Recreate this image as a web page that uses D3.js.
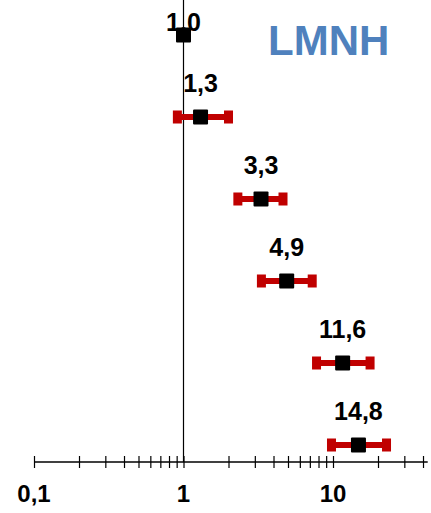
<!DOCTYPE html>
<html>
<head>
<meta charset="utf-8">
<script src="https://cdn.jsdelivr.net/npm/d3@7"></script>
<style>
  html, body { margin: 0; padding: 0; background: #fff; }
  svg { display: block; font-family: "Liberation Sans", Arial, sans-serif; }
</style>
</head>
<body>
<svg id="chart" width="431" height="513"></svg>
<script>
// Odds ratios with 95% confidence intervals, one row per group
const labels = ["1,0", "1,3", "3,3", "4,9", "11,6", "14,8"];
const estimates = [1.0, 1.3, 3.3, 4.9, 11.6, 14.8];
const ciLower = [null, 0.91, 2.31, 3.32, 7.76, 9.77];
const ciUpper = [null, 2.0, 4.63, 7.26, 17.7, 22.8];
const title = "LMNH";
const tickLabelValues = [0.1, 1, 10];
const tickLabelTexts = ["0,1", "1", "10"];

const W = 431, H = 513;
const svg = d3.select("#chart");

// log-scaled horizontal axis, rows stacked downwards
const x = d3.scaleLog().domain([0.1, 10]).range([34, 333]);
const xMax = 43;
const y = d3.scalePoint().domain(d3.range(labels.length)).range([35, 445]);
const axisY = 462;

// every minor tick from 0.1 up to 40
const tickVals = [];
for (const dec of [0.1, 1, 10]) {
  for (let m = 1; m <= 9; m++) {
    const v = +(m * dec).toPrecision(3);
    if (v <= 40) tickVals.push(v);
  }
}

const axis = d3.axisBottom(x)
  .tickValues(tickVals)
  .tickSizeInner(6)
  .tickSizeOuter(0)
  .tickFormat(() => "");

const gAxis = svg.append("g").attr("transform", `translate(0,${axisY})`).call(axis);
gAxis.select(".domain").attr("d", `M${x(0.1)},0H${x(xMax)}`).attr("stroke", "#000").attr("stroke-width", 1.3);
gAxis.selectAll(".tick line").attr("y1", -6).attr("y2", 6).attr("stroke", "#000").attr("stroke-width", 1.2);

// labelled ticks
svg.append("g").selectAll("text")
  .data(tickLabelValues)
  .join("text")
  .attr("x", d => x(d))
  .attr("y", 502)
  .attr("text-anchor", "middle")
  .attr("font-size", 24)
  .attr("font-weight", "bold")
  .attr("fill", "#000")
  .text((d, i) => tickLabelTexts[i]);

// reference line at odds ratio 1
svg.append("line")
  .attr("x1", x(1)).attr("x2", x(1))
  .attr("y1", 0).attr("y2", axisY)
  .attr("stroke", "#000").attr("stroke-width", 1.2);

const rows = estimates.map((v, i) => ({ v, lo: ciLower[i], hi: ciUpper[i], label: labels[i], i }));

// confidence interval bars with end caps
const red = "#c00000";
const ci = svg.append("g").selectAll("g")
  .data(rows.filter(d => d.lo != null))
  .join("g");
ci.append("line")
  .attr("x1", d => x(d.lo)).attr("x2", d => x(d.hi))
  .attr("y1", d => y(d.i)).attr("y2", d => y(d.i))
  .attr("stroke", red).attr("stroke-width", 6);
ci.selectAll("rect")
  .data(d => [[d.lo, d.i], [d.hi, d.i]])
  .join("rect")
  .attr("x", d => x(d[0]) - 4.5)
  .attr("y", d => y(d[1]) - 6.5)
  .attr("width", 9)
  .attr("height", 13)
  .attr("fill", red);

// point estimates
const sq = 15;
svg.append("g").selectAll("rect")
  .data(rows)
  .join("rect")
  .attr("x", d => x(d.v) - sq / 2)
  .attr("y", d => y(d.i) - sq / 2)
  .attr("width", sq).attr("height", sq)
  .attr("rx", 1)
  .attr("fill", "#000");

// value labels above each estimate
svg.append("g").selectAll("text")
  .data(rows)
  .join("text")
  .attr("x", d => x(d.v))
  .attr("y", d => Math.max(y(d.i) - 25, 31))
  .attr("text-anchor", "middle")
  .attr("font-size", 25)
  .attr("font-weight", "bold")
  .attr("fill", "#000")
  .text(d => d.label);

svg.append("text")
  .attr("x", 268).attr("y", 55)
  .attr("font-size", 42)
  .attr("font-weight", "bold")
  .attr("fill", "#4f81bd")
  .text(title);
</script>
</body>
</html>
